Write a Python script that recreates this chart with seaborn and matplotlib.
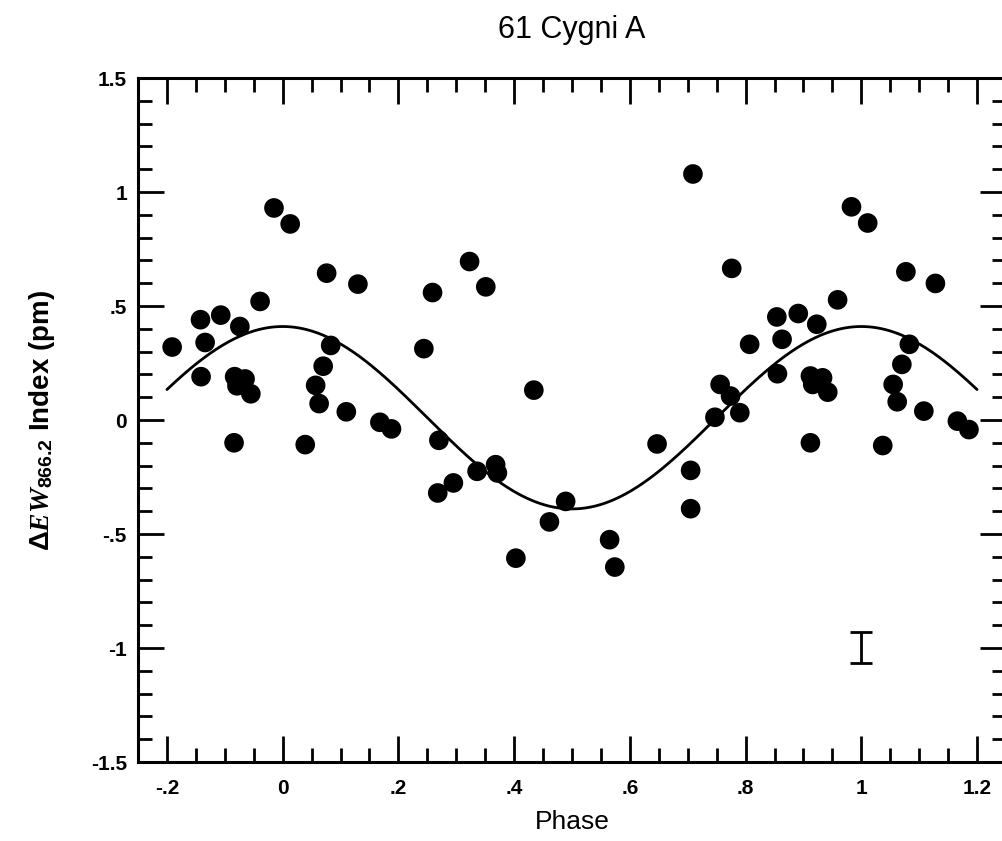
import numpy as np
import pandas as pd
import matplotlib
matplotlib.use("Agg")
import matplotlib.pyplot as plt
from matplotlib.ticker import MultipleLocator, FixedLocator
import seaborn as sns

# ---------------- data ----------------
phase = [
    -0.191, -0.142, -0.134, -0.141, -0.107, -0.074, -0.084, -0.083, -0.065,
    -0.079, -0.055, -0.039, -0.015,
    0.013, 0.039, 0.057, 0.063, 0.070, 0.076, 0.083, 0.110, 0.130, 0.168,
    0.188, 0.244, 0.259, 0.268, 0.270, 0.295, 0.323, 0.336, 0.351, 0.368,
    0.371, 0.403, 0.434, 0.461, 0.489, 0.565, 0.574, 0.647, 0.705, 0.705,
    0.709, 0.747, 0.756, 0.774, 0.776, 0.790, 0.807, 0.854, 0.855, 0.863,
    0.891, 0.912, 0.912, 0.916, 0.923, 0.933, 0.942, 0.959, 0.983,
    1.011, 1.037, 1.055, 1.062, 1.070, 1.077, 1.083, 1.108, 1.128, 1.166,
    1.186,
]
delta_ew = [
    0.32, 0.44, 0.34, 0.19, 0.46, 0.41, -0.10, 0.19, 0.18,
    0.15, 0.115, 0.52, 0.93,
    0.86, -0.108, 0.152, 0.072, 0.236, 0.644, 0.327, 0.036, 0.596, -0.010,
    -0.039, 0.313, 0.559, -0.320, -0.089, -0.276, 0.695, -0.225, 0.584, -0.196,
    -0.232, -0.606, 0.131, -0.447, -0.357, -0.525, -0.645, -0.105, -0.221, -0.389,
    1.079, 0.012, 0.156, 0.105, 0.665, 0.032, 0.332, 0.452, 0.203, 0.354,
    0.467, 0.193, -0.100, 0.156, 0.420, 0.185, 0.122, 0.527, 0.935,
    0.864, -0.112, 0.156, 0.080, 0.244, 0.650, 0.332, 0.039, 0.599, -0.005,
    -0.042,
]

# sinusoidal fit drawn through the data
fit_mean = 0.01
fit_amplitude = 0.40
fit_peak_phase = 0.0
fit_range = (-0.2, 1.2)

# typical error bar
err_phase = [1.0]
err_value = [-0.997]
err_size = [0.068]

x_ticks = [-0.2, 0.0, 0.2, 0.4, 0.6, 0.8, 1.0, 1.2]
x_tick_labels = ["-.2", "0", ".2", ".4", ".6", ".8", "1", "1.2"]
y_ticks = [-1.5, -1.0, -0.5, 0.0, 0.5, 1.0, 1.5]
y_tick_labels = ["-1.5", "-1", "-.5", "0", ".5", "1", "1.5"]

title = "61 Cygni A"
x_label = "Phase"
y_label = r"$\mathit{ΔEW}_{\mathbf{866.2}}$ Index (pm)"

# ---------------- style ----------------
sns.set_theme(style="ticks")
plt.rcParams["font.family"] = ["Liberation Sans", "DejaVu Sans"]
plt.rcParams["mathtext.fontset"] = "custom"
plt.rcParams["mathtext.it"] = "Liberation Serif:italic:bold"
plt.rcParams["mathtext.rm"] = "Liberation Sans:bold"
plt.rcParams["mathtext.bf"] = "Liberation Sans:bold"
for key in ["text.color", "axes.labelcolor", "xtick.color", "ytick.color",
            "axes.edgecolor"]:
    plt.rcParams[key] = "black"

fig = plt.figure(figsize=(10.02, 8.41), dpi=100)
ax = fig.add_axes([138 / 1002, 79 / 841, 868 / 1002, 684 / 841])

df = pd.DataFrame({"phase": phase, "dew": delta_ew})
sns.scatterplot(data=df, x="phase", y="dew", color="black", s=200,
                edgecolor="none", linewidth=0, ax=ax, zorder=3)

fx = np.linspace(fit_range[0], fit_range[1], 400)
fy = fit_mean + fit_amplitude * np.cos(2 * np.pi * (fx - fit_peak_phase))
sns.lineplot(x=fx, y=fy, color="black", linewidth=2.0, ax=ax, sort=False,
             estimator=None, zorder=2)

ax.errorbar(err_phase, err_value, yerr=err_size, fmt="none", ecolor="black",
            elinewidth=2.0, capsize=8, capthick=2.0)

ax.set_xlim(-0.25, 1.25)
ax.set_ylim(-1.5, 1.5)

ax.xaxis.set_major_locator(FixedLocator(x_ticks))
ax.set_xticklabels(x_tick_labels)
ax.xaxis.set_minor_locator(MultipleLocator(0.05))
ax.yaxis.set_major_locator(FixedLocator(y_ticks))
ax.set_yticklabels(y_tick_labels)
ax.yaxis.set_minor_locator(MultipleLocator(0.1))

ax.tick_params(which="both", direction="in", top=True, right=True,
               width=2.0, color="black", labelcolor="black")
ax.tick_params(which="major", length=19)
ax.tick_params(which="minor", length=10)
ax.tick_params(axis="x", which="major", pad=12, labelsize=15)
ax.tick_params(axis="y", which="major", pad=8, labelsize=15)
for lab in ax.get_xticklabels() + ax.get_yticklabels():
    lab.set_fontweight("bold")

for sp in ax.spines.values():
    sp.set_linewidth(2.2)
    sp.set_color("black")

ax.set_title(title, fontsize=22, pad=29, color="black")
ax.set_xlabel(x_label, fontsize=19, labelpad=9)
ax.set_ylabel(y_label, fontsize=20, fontweight="bold", labelpad=24)

fig.savefig("out.png", dpi=100, facecolor="white")
